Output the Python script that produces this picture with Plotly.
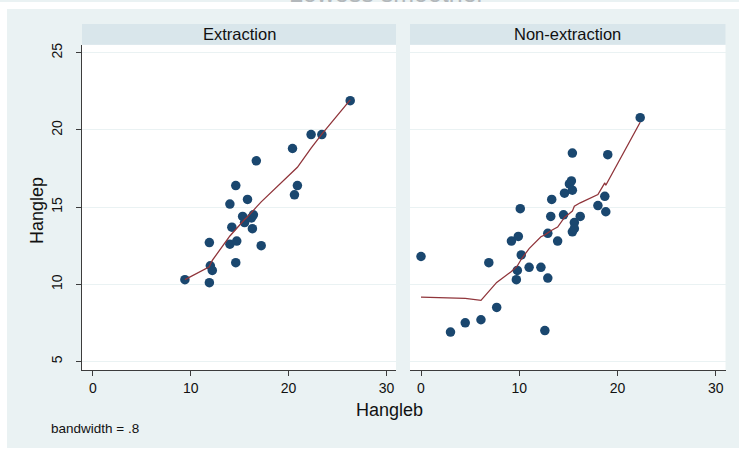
import plotly.graph_objects as go

W, H = 739, 450

# Extraction group: observed points
ext_hangleb = [9.4, 11.9, 11.9, 12.0, 12.2, 14.0, 14.0, 14.2, 14.6, 14.6, 14.7, 15.3, 15.5,
               15.8, 16.2, 16.3, 16.4, 16.7, 17.2, 20.4, 20.6, 20.9, 22.3, 23.4, 26.3]
ext_hanglep = [10.3, 10.1, 12.7, 11.2, 10.9, 12.6, 15.2, 13.7, 11.4, 16.4, 12.8, 14.4, 14.0,
               15.5, 14.3, 13.6, 14.5, 18.0, 12.5, 18.8, 15.8, 16.4, 19.7, 19.7, 21.9]
# Extraction group: lowess fitted values
ext_fit_x = [9.4, 11.9, 12.0, 12.2, 14.0, 14.2, 14.6, 14.7, 15.3, 15.5, 15.8, 16.2, 16.3,
             16.4, 16.7, 17.2, 20.4, 20.6, 20.9, 22.3, 23.4, 26.3]
ext_fit_y = [10.3, 11.13, 11.3, 11.55, 13.13, 13.28, 13.56, 13.67, 14.1, 14.2, 14.37, 14.63,
             14.68, 14.74, 15.0, 15.34, 17.28, 17.41, 17.58, 18.83, 19.73, 21.95]

# Non-extraction group: observed points
non_hangleb = [0.0, 3.0, 4.5, 6.1, 6.9, 7.7, 9.2, 9.7, 9.8, 9.9, 10.1, 10.2, 11.0, 12.2, 12.6,
               12.9, 12.9, 13.2, 13.3, 13.9, 14.5, 14.6, 15.1, 15.3, 15.4, 15.4, 15.4, 15.6,
               15.6, 16.2, 18.0, 18.7, 18.8, 19.0, 22.3]
non_hanglep = [11.8, 6.9, 7.5, 7.7, 11.4, 8.5, 12.8, 10.3, 10.9, 13.1, 14.9, 11.9, 11.1, 11.1,
               7.0, 10.4, 13.3, 14.4, 15.5, 12.8, 14.5, 15.9, 16.5, 16.7, 16.1, 18.5, 13.4,
               14.0, 13.6, 14.4, 15.1, 15.7, 14.7, 18.4, 20.8]
# Non-extraction group: lowess fitted values
non_fit_x = [0.0, 3.0, 4.5, 6.1, 6.9, 7.7, 9.2, 9.7, 9.8, 9.9, 10.1, 10.2, 11.0, 12.2, 12.6,
             12.9, 13.2, 13.3, 13.9, 14.5, 14.6, 15.1, 15.3, 15.4, 15.6, 16.2, 18.0, 18.7,
             18.8, 19.0, 22.3]
non_fit_y = [9.17, 9.08, 9.08, 8.96, 9.53, 10.12, 10.83, 11.08, 11.19, 11.3, 11.56, 11.62,
             12.31, 13.08, 13.2, 13.35, 13.47, 13.5, 13.71, 14.27, 14.33, 14.59, 14.7, 14.74,
             15.06, 15.28, 15.82, 16.57, 16.42, 16.65, 20.5]

panel_titles = ["Extraction", "Non-extraction"]
x_ticks = [0, 10, 20, 30]
y_ticks = [5, 10, 15, 20, 25]
x_range = [-1.12, 30.98]
y_range = [4.42, 25.52]

FONT = "Liberation Sans, Arial, sans-serif"
OUTER = "#eaf2f3"
STRIP = "#d9e6eb"
NAVY = "#1a476f"
MAROON = "#90353b"
AXIS = "#3c3c3c"


def px(x):
    return x / W


def py(y):
    return 1 - y / H


fig = go.Figure()

groups = [
    (ext_hangleb, ext_hanglep, ext_fit_x, ext_fit_y, "x", "y"),
    (non_hangleb, non_hanglep, non_fit_x, non_fit_y, "x2", "y2"),
]
for xs, ys, fx, fy, xa, ya in groups:
    fig.add_trace(go.Scatter(
        x=xs, y=ys, mode="markers", xaxis=xa, yaxis=ya,
        marker=dict(color=NAVY, size=9.5, line=dict(width=0)),
        showlegend=False, hoverinfo="x+y",
    ))
    fig.add_trace(go.Scatter(
        x=fx, y=fy, mode="lines", xaxis=xa, yaxis=ya,
        line=dict(color=MAROON, width=1.3),
        showlegend=False, hoverinfo="skip",
    ))

xaxis_common = dict(
    range=x_range, tickvals=x_ticks, ticks="outside", ticklen=5, tickwidth=1,
    tickcolor=AXIS, showline=True, linecolor=AXIS, linewidth=1,
    showgrid=False, zeroline=False,
    tickfont=dict(family=FONT, size=14, color="#111111"),
)
yaxis_common = dict(
    range=y_range, tickvals=y_ticks, showgrid=True, gridcolor=OUTER, gridwidth=1,
    zeroline=False,
)

panel_edges = [(82, 396), (410, 725.5)]
plot_top, plot_bottom = 43, 370

fig.update_layout(
    width=W, height=H,
    margin=dict(l=0, r=0, t=0, b=0),
    paper_bgcolor=OUTER,
    plot_bgcolor="white",
    xaxis=dict(domain=[px(panel_edges[0][0]), px(panel_edges[0][1])], anchor="y",
               **xaxis_common),
    xaxis2=dict(domain=[px(panel_edges[1][0]), px(panel_edges[1][1])], anchor="y2",
                **xaxis_common),
    yaxis=dict(domain=[py(plot_bottom), py(plot_top)], anchor="x",
               ticks="outside", ticklen=5, tickwidth=1, tickcolor=AXIS,
               showline=True, linecolor=AXIS, linewidth=1, tickangle=-90,
               ticklabelstandoff=8,
               tickfont=dict(family=FONT, size=14, color="#111111"),
               **yaxis_common),
    yaxis2=dict(domain=[py(plot_bottom), py(plot_top)], anchor="x2",
                showticklabels=False, ticks="", showline=False, **yaxis_common),
    font=dict(family=FONT),
)

shapes = [
    # white page border around the graph region
    dict(type="rect", xref="paper", yref="paper", x0=0, x1=px(7), y0=0, y1=1,
         fillcolor="white", line=dict(width=0), layer="below"),
    dict(type="rect", xref="paper", yref="paper", x0=0, x1=1, y0=py(7), y1=1,
         fillcolor="white", line=dict(width=0), layer="below"),
    dict(type="rect", xref="paper", yref="paper", x0=0, x1=1, y0=0, y1=py(448),
         fillcolor="white", line=dict(width=0), layer="below"),
]
annotations = []
for (x0, x1), title in zip(panel_edges, panel_titles):
    shapes.append(dict(type="rect", xref="paper", yref="paper",
                       x0=px(x0), x1=px(x1), y0=py(43), y1=py(22),
                       fillcolor=STRIP, line=dict(width=0)))
    annotations.append(dict(xref="paper", yref="paper", x=px((x0 + x1) / 2), y=py(32),
                            text=title, showarrow=False, xanchor="center", yanchor="middle",
                            font=dict(family=FONT, size=16.5, color="#111111")))

annotations += [
    dict(xref="paper", yref="paper", x=px(389.5), y=py(410), text="Hangleb",
         showarrow=False, xanchor="center", yanchor="middle",
         font=dict(family=FONT, size=18, color="#111111")),
    dict(xref="paper", yref="paper", x=px(37), y=py(210), text="Hanglep", textangle=-90,
         showarrow=False, xanchor="center", yanchor="middle",
         font=dict(family=FONT, size=18, color="#111111")),
    dict(xref="paper", yref="paper", x=px(49), y=py(428), text="bandwidth = .8",
         showarrow=False, xanchor="left", yanchor="middle",
         font=dict(family=FONT, size=13.5, color="#111111")),
    # graph title, sitting at the very top edge of the page
    dict(xref="paper", yref="paper", x=px(387), y=py(7.5), text="Lowess smoother",
         showarrow=False, xanchor="center", yanchor="bottom",
         font=dict(family=FONT, size=25, color="#b3b8bb")),
]

fig.update_layout(shapes=shapes, annotations=annotations)

fig.write_html("out.html")
